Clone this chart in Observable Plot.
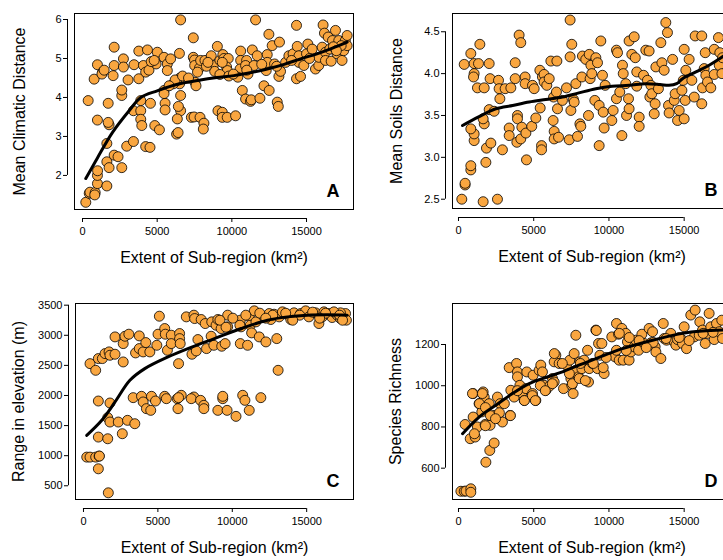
<!DOCTYPE html>
<html>
<head>
<meta charset="utf-8">
<script src="https://cdn.jsdelivr.net/npm/d3@7"></script>
<script src="https://cdn.jsdelivr.net/npm/@observablehq/plot@0.6"></script>
<style>
  body { margin: 0; background: #fff; }
  #wrap { position: relative; width: 723px; height: 560px; overflow: hidden; background: #fff; }
</style>
</head>
<body>
<div id="wrap"></div>
<script>
// ---------- data ----------
const xTicks = [0, 5000, 10000, 15000];
const xTitle = "Extent of Sub-region (km²)";

// Panel A: Mean Climatic Distance
const extentA = [220,450,500,850,820,1000,1000,1010,1630,1630,1780,1630,1780,1720,1720,380,1000,2120,2380,2630,2960,3410,4230,4520,3410,3900,3900,3970,3900,4550,4840,5150,5530,5530,2630,2630,780,1000,1340,1300,1450,2120,2120,2050,2740,2740,3050,3450,3770,3770,4080,4350,4230,4450,5010,4930,5460,5680,5900,5680,6490,6570,6530,6500,6300,6080,5460,5460,6570,6570,6420,6350,6300,6400,7420,7420,7500,7530,7600,7510,7840,7910,7290,7470,7870,8130,8090,8200,8620,8760,8850,9030,9200,9400,9470,9760,9650,9700,9200,9360,9070,9360,9360,9690,10250,10590,10590,10550,10400,10700,10920,11250,11300,10990,10920,11080,11370,11590,11700,11480,11880,12150,12370,12480,12500,12300,12370,12700,12860,13040,13110,13190,13150,13260,13600,13820,14100,14330,14330,14600,14380,14490,14490,14820,15000,15090,15380,15600,15820,15820,16050,16110,16200,16270,16270,16450,16560,16650,16740,16940,17050,17160,17380,17490,17600,17720,17720,17320,6200,6700,7100,7700,8300,8400,5800,9800,10100,11000,12000,13000,14000,15200,16800,17000,4600,4800];
const climaticDistance = [1.31,1.54,1.57,1.56,1.5,1.79,2.0,2.12,1.73,2.35,2.2,2.82,3.3,3.36,3.85,3.92,3.42,2.52,2.48,2.2,2.75,2.87,2.74,2.72,3.66,3.66,3.44,3.28,3.92,3.85,3.28,3.17,3.85,3.68,4.05,4.19,4.47,4.84,4.65,4.6,4.7,5.29,4.82,4.56,4.99,4.78,4.45,4.84,5.19,4.48,4.82,5.22,4.65,4.7,5.16,4.86,5.03,4.86,4.99,4.69,5.13,5.99,4.5,4.35,4.43,4.35,4.18,4.1,4.05,3.66,3.77,3.45,3.06,3.1,5.53,5.03,4.96,4.39,4.3,4.82,4.76,4.95,3.49,3.5,3.49,3.34,3.19,4.95,5.07,4.82,4.67,5.31,4.95,5.1,5.0,5.0,4.78,4.69,4.59,4.9,3.66,3.62,3.49,3.49,3.53,5.19,4.95,4.73,4.52,4.18,3.96,3.9,3.94,4.95,4.82,4.6,5.22,5.99,5.07,4.82,3.98,4.3,5.1,5.62,4.18,4.69,4.9,5.33,4.86,3.88,3.77,5.42,4.54,4.67,4.9,5.07,5.12,5.85,4.48,4.54,5.31,4.9,5.07,4.82,5.12,5.37,5.24,4.73,4.82,5.03,5.29,5.86,5.65,5.16,4.95,5.55,5.24,4.93,5.46,5.72,5.12,5.46,4.95,5.2,5.46,5.59,5.33,5.33,4.45,4.55,4.5,4.65,4.8,4.9,4.3,4.55,4.6,4.7,4.85,4.8,4.95,5.0,5.3,5.2,4.92,4.95];
const smoothXA = [220,1000,2000,3120,3900,5000,6500,7900,9000,10140,11300,12370,13500,14600,15700,16700,17720];
const smoothA  = [1.92,2.45,3.1,3.66,4.0,4.17,4.35,4.45,4.51,4.56,4.64,4.73,4.85,4.99,5.12,5.26,5.42];

// Panel B: Mean Soils Distance
const extentB = [
  220,1640,2590,440,440,820,820,1820,1860,2150,
  2920,1040,1040,820,1710,1640,2040,2370,380,820,
  1040,1000,1040,1330,1260,1420,1710,2040,2100,2660,
  2700,2750,3100,3370,3370,3480,3770,3770,3920,3920,
  3880,4030,4140,4140,4210,4430,4430,4480,4520,4870,
  4920,5030,5140,5410,5430,5520,5520,5580,5690,5690,
  5870,6030,6140,6320,6290,6360,6360,6540,6510,6580,
  6650,6910,7180,7360,7420,7420,7470,7530,7640,7690,
  7800,7910,8070,8130,8200,8240,8460,8640,8690,8750,
  8800,8860,9130,9240,9060,9350,9350,9460,9570,9620,
  9680,9750,10190,10280,10500,10570,10500,10720,10860,10900,
  10950,11120,11170,11300,11340,11340,11520,11680,11750,11850,
  11850,12010,12010,12300,12450,12560,12670,12720,12790,12850,
  13010,13070,13120,13290,13450,13520,13670,13780,13890,13960,
  14000,14230,14340,14400,14560,14670,14850,14940,15000,15000,
  15070,15110,15330,15510,15670,15730,16170,16170,16220,16330,
  16400,16440,16550,16770,17000,17000,17280,17330,17370,17510,
  17550];
const soilsDistance = [
  2.5,2.47,2.5,2.67,2.69,2.85,2.9,2.94,3.11,3.17,
  3.09,3.2,3.28,3.34,3.4,3.46,3.57,3.55,4.11,4.24,
  4.0,3.96,4.12,4.12,3.83,4.35,3.83,4.12,3.94,3.92,
  3.82,3.7,3.82,3.35,3.26,3.83,4.13,3.94,3.5,3.46,
  3.18,4.46,4.37,3.22,3.36,3.96,3.88,3.29,2.97,3.37,
  3.86,3.82,3.47,4.04,3.59,3.14,3.09,3.96,3.99,3.9,
  3.86,3.94,4.15,3.72,3.44,3.31,3.22,4.15,3.78,3.58,
  3.24,3.68,3.83,3.21,4.2,4.64,3.56,4.35,3.69,3.66,
  3.88,3.25,3.4,3.37,3.96,4.21,4.17,3.5,4.23,3.94,
  4.1,4.0,4.19,4.13,3.68,3.62,3.14,4.39,3.98,3.54,
  3.35,3.86,3.44,3.56,4.28,4.25,3.7,3.78,3.26,4.1,
  4.0,3.88,3.5,3.7,3.58,4.39,4.23,4.44,4.19,4.02,
  3.85,3.48,3.37,3.98,4.28,3.92,4.27,3.72,3.86,3.76,
  3.52,3.64,4.08,3.82,4.37,4.13,4.04,4.61,4.49,3.62,
  3.53,4.17,3.68,3.76,3.44,3.56,3.8,3.92,4.29,3.46,
  3.68,4.04,4.17,3.92,3.72,4.45,4.45,3.64,3.83,4.06,
  4.25,3.98,3.9,3.83,3.99,4.29,4.43,4.1,4.25,4.0,
  4.19];
const smoothXB = [270,1300,2480,3600,4700,5800,6910,8000,9130,10200,11340,12450,13400,13990,14500,14890,15780,16660,17620];
const smoothB  = [3.38,3.48,3.58,3.62,3.66,3.69,3.72,3.77,3.82,3.85,3.86,3.88,3.87,3.86,3.88,3.94,4.02,4.1,4.21];

// Panel C: Range in elevation (m)
const extentC = [
  220,440,820,1050,1070,1000,1000,1630,1670,1630,
  1780,1780,1000,2340,2610,2960,3450,440,820,1000,
  1270,1450,1720,1780,2120,2120,2670,2670,2790,3050,
  3500,3750,3750,4010,4190,4460,3340,3900,4010,4230,
  4520,4570,4840,4930,5010,5100,5460,5500,5640,5900,
  5900,5460,5570,6300,6390,6460,6460,6500,6350,6570,
  6390,6910,7420,7470,7290,7580,7690,7420,7240,7870,
  8090,8090,7910,8180,8270,8580,8620,8760,8910,9030,
  9030,9250,9360,9360,9290,9520,9690,9690,9650,10250,
  10540,10540,10590,10700,10850,11030,11140,11140,11210,11300,
  11480,11590,11810,11920,12260,12150,12480,12590,12810,12990,
  13080,13150,13370,13660,13930,14150,14600,14930,15150,15600,
  15820,16050,16160,16490,16710,17050,17270,17490,17610,17670,
  17270,16830,
  9170,10040,10910,11850,12720,13590,14530,15400,16270,17210,
  12250,14060,15870,17410,9580,10510];
const elevationRange = [
  976,976,976,993,993,782,1309,1281,383,1631,
  1559,1875,1908,1559,1365,1587,1531,2529,2418,2613,
  2613,2696,2724,2668,2685,2973,2557,2862,2984,3018,
  2707,2990,2779,2724,2879,2724,1964,1986,1892,1781,
  1753,1986,1908,2834,3018,3317,3112,3018,2751,3001,
  2862,1986,1947,1947,2529,3029,2945,2862,1781,2003,
  1964,3306,3334,3278,2685,2740,2929,1975,1947,1919,
  1836,1781,3262,3195,2779,2984,3223,2834,3167,3262,
  1753,3112,1947,1986,2818,2862,3334,3140,1753,1653,
  2862,3251,3140,2003,1919,2834,3317,1753,3167,3040,
  3406,3223,2973,1964,2890,3306,3361,3262,3350,2945,
  2418,3306,3389,3350,3262,3373,3361,3406,3306,3373,
  3195,3306,3389,3361,3295,3334,3278,3317,3361,3251,
  3373,3389,
  3250,3284,3334,3367,3334,3367,3334,3384,3367,3334,
  3284,3250,3284,3250,3134,3167];
const smoothXC = [220,1230,2120,3120,4120,5680,7020,8800,10590,12370,13710,15040,16400,17720];
const smoothC  = [1337,1587,1892,2252,2446,2640,2779,2945,3112,3251,3306,3334,3340,3334];

// Panel D: Species Richness
const extentD = [
  160,380,500,820,820,440,780,975,1110,975,
  1260,1370,1710,1640,1550,1820,1770,2040,2080,2370,
  2100,2370,2590,2660,2770,2920,3430,3370,3480,3700,
  3860,3920,3920,4080,4210,4370,4480,4540,4920,5140,
  4960,5360,5470,5580,5690,5810,6030,6250,6360,6470,
  6360,6690,6980,7180,7400,7470,7530,7620,7800,7690,
  7800,7980,8070,8200,8350,8580,8640,8690,8910,9130,
  9240,9310,9400,9530,9680,10190,10410,10500,10500,10640,
  10680,10860,10950,11120,11230,11340,11460,11680,11790,11970,
  12190,12340,12670,12790,12900,13070,13120,13450,13610,13670,
  13830,14110,14340,14450,14560,14780,14890,15000,15160,15440,
  15730,15670,16000,16040,16220,16400,16550,16660,16770,17000,
  17150,17330,17500,17550,
  930,1590,1390,1790,2120,2720,3050,3450,2460,1060,
  1790,3920,4380,4910,5110,5440,5770,6240,6370,6900,
  7370,7570,8030,8100,8430,9160,10690,11350,12010,12940,
  13800,14670,15330,16260,16920,11150,9820,8960,9620,12480];
const speciesRichness = [
  488,488,489,500,483,812,743,848,751,962,
  800,913,945,970,873,629,812,913,686,722,
  808,856,945,840,913,824,856,1088,978,945,
  1108,1067,1043,1002,965,929,986,1067,962,929,
  1051,1075,1100,1067,1002,978,997,1035,1018,1148,
  1116,1108,986,1100,1124,1035,1002,962,1245,1156,
  1075,1043,1116,1083,1124,1172,1018,1083,1108,1270,
  1083,1205,1148,1205,1059,1237,1140,1172,1302,1250,
  1124,1278,1124,1254,1213,1124,1164,1189,1221,1172,
  1250,1205,1278,1208,1262,1189,1164,1132,1302,1229,
  1221,1254,1213,1197,1224,1229,1205,1286,1180,1343,
  1367,1237,1245,1310,1270,1205,1254,1351,1286,1224,
  1302,1262,1318,1229,
  962,962,913,894,855,869,913,855,840,767,
  806,976,928,952,928,1001,976,1010,1156,1108,
  1059,1010,1035,1108,1025,1268,1254,1234,1219,1210,
  1229,1234,1219,1254,1259,1171,1137,1108,1088,1185];
const smoothXD = [270,1370,2480,3590,4700,5800,6910,8000,9130,10900,12900,14890,16200,17550];
const smoothD  = [767,848,905,962,1010,1040,1067,1100,1132,1180,1221,1254,1265,1270];

// ---------- drawing ----------
const FONT = "'Liberation Sans', Arial, Helvetica, sans-serif";
const ORANGE = "#F9A640";

function panel(o) {
  const n = Math.min(o.xs.length, o.ys.length);
  const pts = o.xs.slice(0, n).map((x, i) => ({x, y: o.ys[i]}));
  const line = o.lx.map((x, i) => ({x, y: o.ly[i]}));
  const yt = o.yTicks;
  return Plot.plot({
    width: o.width, height: o.height,
    marginLeft: o.ml, marginRight: o.mr, marginTop: o.mt, marginBottom: o.mb,
    x: {domain: o.xDomain},
    y: {domain: o.yDomain},
    style: {fontFamily: FONT, color: "black", background: "transparent", overflow: "visible"},
    marks: [
      Plot.frame({stroke: "black", strokeWidth: 1}),
      Plot.ruleY([o.yDomain[0]], {x1: xTicks[0], x2: xTicks[xTicks.length - 1], dy: 9, stroke: "black"}),
      Plot.ruleX([o.xDomain[0]], {y1: yt[0], y2: yt[yt.length - 1], dx: -7, stroke: "black"}),
      Plot.axisX({ticks: xTicks, tickFormat: "d", tickSize: 4, tickPadding: 5, dy: 9, fontSize: 11, label: null}),
      Plot.axisY({ticks: yt, tickFormat: o.yFormat, tickSize: 4, tickPadding: 2, dx: -7, fontSize: 11, label: null}),
      Plot.dot(pts, {x: "x", y: "y", r: 5, fill: ORANGE, stroke: "black", strokeWidth: 0.8}),
      Plot.line(line, {x: "x", y: "y", stroke: "black", strokeWidth: 3, curve: "catmull-rom"}),
      Plot.text([o.letter], {frameAnchor: "bottom-right", textAnchor: "end", lineAnchor: "bottom", dx: -14, dy: -13, fontSize: 18, fontWeight: "bold"}),
      Plot.text([xTitle], {frameAnchor: "bottom", textAnchor: "middle", dy: 53, fontSize: 16}),
      Plot.text([o.yTitle], {frameAnchor: "left", textAnchor: "middle", dx: o.ytdx, rotate: -90, fontSize: 16})
    ]
  });
}

const wrap = document.getElementById("wrap");
function place(node, left, top) {
  node.style.position = "absolute";
  node.style.left = left + "px";
  node.style.top = top + "px";
  wrap.appendChild(node);
}

place(panel({
  xs: extentA, ys: climaticDistance, lx: smoothXA, ly: smoothA,
  width: 362, height: 280, ml: 74, mr: 9, mt: 13, mb: 71,
  xDomain: [-536, 18146], yDomain: [1.126, 6.154],
  yTicks: [2, 3, 4, 5, 6], yFormat: "d",
  letter: "A", yTitle: "Mean Climatic Distance", ytdx: -55
}), 0, 0);

place(panel({
  xs: extentB, ys: soilsDistance, lx: smoothXB, ly: smoothB,
  width: 380, height: 280, ml: 90, mr: 11, mt: 13, mb: 72,
  xDomain: [-398, 18146], yDomain: [2.389, 4.718],
  yTicks: [2.5, 3.0, 3.5, 4.0, 4.5], yFormat: ".1f",
  letter: "B", yTitle: "Mean Soils Distance", ytdx: -56
}), 362, 0);

place(panel({
  xs: extentC, ys: elevationRange, lx: smoothXC, ly: smoothC,
  width: 362, height: 280, ml: 75, mr: 9, mt: 23, mb: 61,
  xDomain: [-536, 18146], yDomain: [272, 3528],
  yTicks: [500, 1000, 1500, 2000, 2500, 3000, 3500], yFormat: "d",
  letter: "C", yTitle: "Range in elevation (m)", ytdx: -57
}), 0, 280);

place(panel({
  xs: extentD, ys: speciesRichness, lx: smoothXD, ly: smoothD,
  width: 380, height: 280, ml: 90, mr: 11, mt: 23, mb: 61,
  xDomain: [-398, 18146], yDomain: [448, 1399],
  yTicks: [600, 800, 1000, 1200], yFormat: "d",
  letter: "D", yTitle: "Species Richness", ytdx: -57
}), 362, 280);
</script>
</body>
</html>
